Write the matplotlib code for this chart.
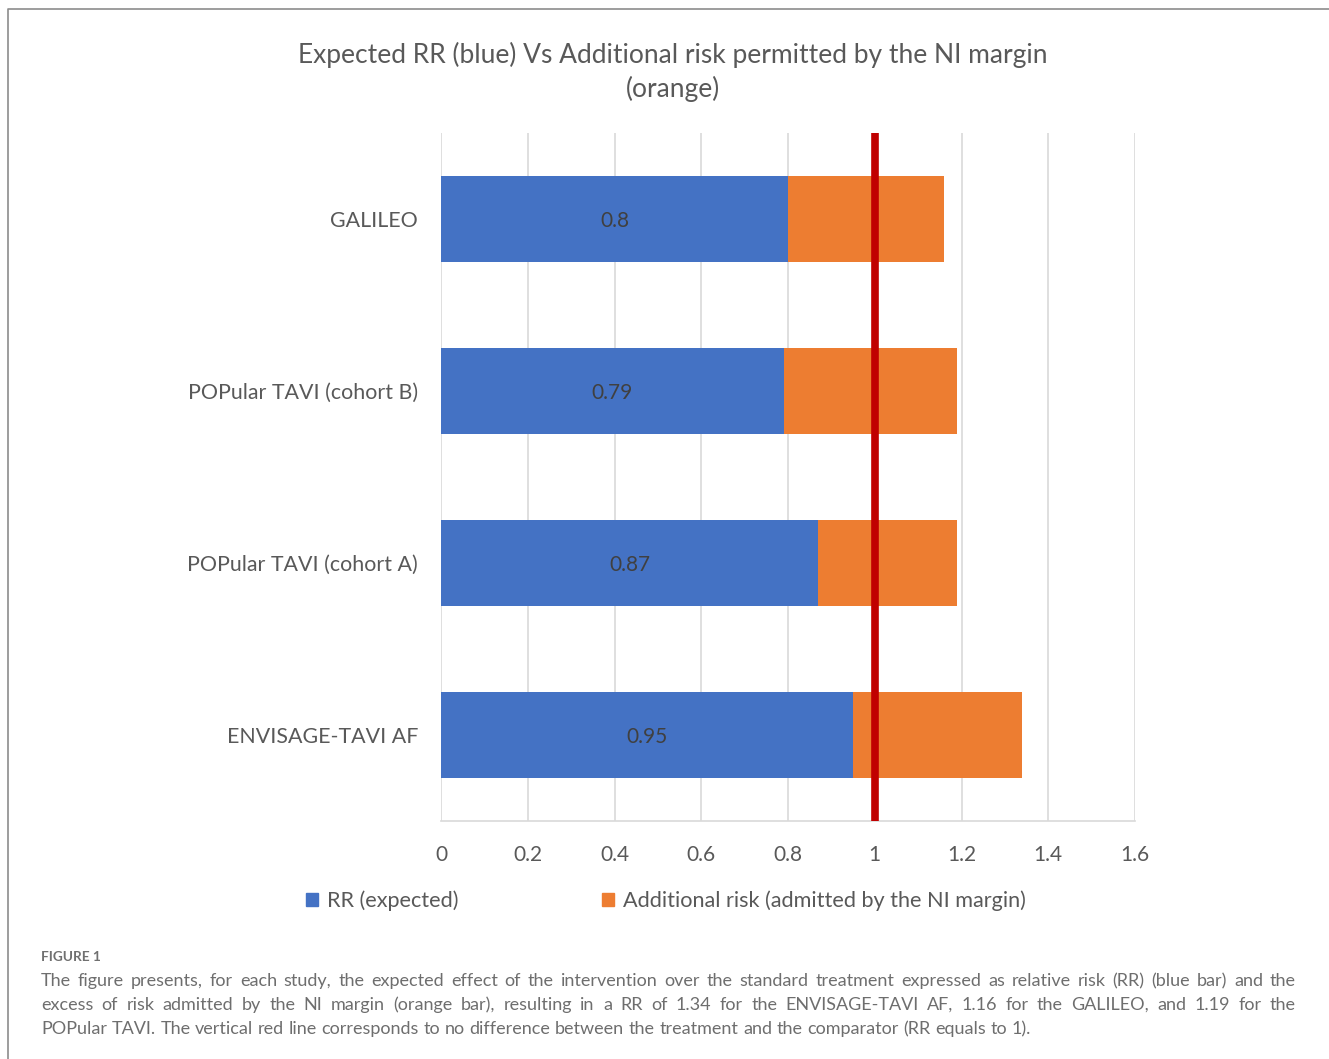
import numpy as np
import matplotlib.pyplot as plt
from matplotlib.patches import Patch
from matplotlib.lines import Line2D

# Dados
studies = ['ENVISAGE-TAVI AF', 'POPular TAVI (cohort A)', 'POPular TAVI (cohort B)', 'GALILEO']
rr_expected = [0.95, 0.87, 0.79, 0.8]
extra_risk = [0.39, 0.32, 0.40, 0.36]
x_ticks = [0, 0.2, 0.4, 0.6, 0.8, 1, 1.2, 1.4, 1.6]
x_tick_labels = ['0', '0.2', '0.4', '0.6', '0.8', '1', '1.2', '1.4', '1.6']

title = 'Expected RR (blue) Vs Additional risk permitted by the NI margin\n(orange)'
caption_lines = [
    'The figure presents, for each study, the expected effect of the intervention over the standard treatment expressed as relative risk (RR) (blue bar) and the',
    'excess of risk admitted by the NI margin (orange bar), resulting in a RR of 1.34 for the ENVISAGE-TAVI AF, 1.16 for the GALILEO, and 1.19 for the',
    'POPular TAVI. The vertical red line corresponds to no difference between the treatment and the comparator (RR equals to 1).',
]

BLUE = '#4472C4'
ORANGE = '#ED7D31'
RED = '#C00000'
TXT = '#595959'

plt.rcParams['font.family'] = ['Lato', 'DejaVu Sans']

W, H = 1329, 1059
fig = plt.figure(figsize=(W / 100, H / 100), dpi=100)

def fx(px):
    return px / W

def fy(py):
    return 1 - py / H

ax = fig.add_axes([fx(441), fy(821), fx(1135) - fx(441), fy(133) - fy(821)])

y = np.arange(len(studies))
ax.barh(y, rr_expected, height=0.5, color=BLUE, label='RR (expected)', zorder=2)
ax.barh(y, extra_risk, left=rr_expected, height=0.5, color=ORANGE,
        label='Additional risk (admitted by the NI margin)', zorder=2)

for yi, v in zip(y, rr_expected):
    ax.text(v / 2, yi, f'{v:g}', ha='center', va='center_baseline', fontsize=15,
            color='#404040', zorder=3)

ax.axvline(1, color=RED, linewidth=5.5, zorder=4)

ax.set_xlim(0, 1.6)
ax.set_ylim(-0.5, len(studies) - 0.5)
ax.set_xticks(x_ticks)
ax.set_xticklabels(x_tick_labels)
ax.set_yticks(y)
ax.set_yticklabels(studies)
ax.tick_params(axis='both', length=0, labelsize=15, labelcolor=TXT)
ax.tick_params(axis='y', labelsize=15.4, pad=16.5)
ax.tick_params(axis='x', pad=17)
ax.grid(axis='x', color='#D9D9D9', linewidth=1.2, zorder=0)
for s in ['top', 'right', 'left']:
    ax.spines[s].set_visible(False)
ax.spines['bottom'].set_color('#D9D9D9')
ax.spines['bottom'].set_linewidth(1.2)

fig.text(fx(673), fy(72), title, ha='center', va='center', fontsize=19,
         color=TXT, linespacing=1.4)

handles = [Patch(color=BLUE), Patch(color=ORANGE)]
fig.legend(handles, ['RR (expected)', 'Additional risk (admitted by the NI margin)'],
           loc='center', bbox_to_anchor=(fx(666), fy(901)), ncol=2, frameon=False,
           fontsize=15.6, labelcolor=TXT, handlelength=0.55, handleheight=0.55,
           handletextpad=0.45, columnspacing=6.6)

# Moldura
fig.add_artist(Line2D([fx(7.5), fx(7.5), 1], [0, fy(8.5), fy(8.5)],
                      transform=fig.transFigure, color='#8C8C8C', linewidth=1.2))

fig.text(fx(41), fy(957), 'FIGURE 1', ha='left', va='center', fontsize=9.8,
         color='#707070', fontweight='bold')

# Legenda justificada
renderer = fig.canvas.get_renderer()
x0, x1 = fx(41), fx(1296)
cap_y = [981, 1005, 1029]
cap_fs = 13.0
for i, line in enumerate(caption_lines):
    words = line.split(' ')
    texts = [fig.text(0, fy(cap_y[i]), w, ha='left', va='center', fontsize=cap_fs,
                      color='#6E6E6E') for w in words]
    widths = [t.get_window_extent(renderer).width / W for t in texts]
    if i < len(caption_lines) - 1:
        gap = (x1 - x0 - sum(widths)) / (len(words) - 1)
    else:
        sp = fig.text(0, 0, 'a a', fontsize=cap_fs)
        sp2 = fig.text(0, 0, 'aa', fontsize=cap_fs)
        gap = (sp.get_window_extent(renderer).width - sp2.get_window_extent(renderer).width) / W
        sp.remove()
        sp2.remove()
    xp = x0
    for t, w in zip(texts, widths):
        t.set_x(xp)
        xp += w + gap

fig.savefig('out.png', dpi=100)
